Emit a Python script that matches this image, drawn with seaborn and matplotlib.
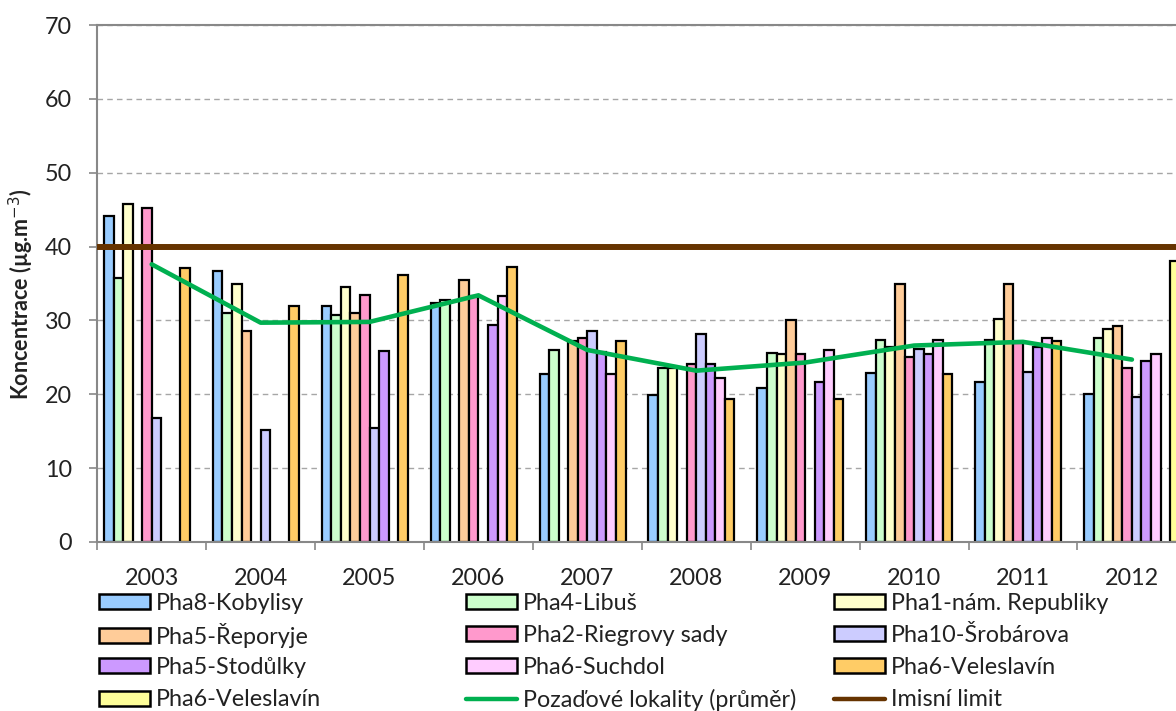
import numpy as np
import pandas as pd
import matplotlib
matplotlib.use('Agg')
import matplotlib.pyplot as plt
import seaborn as sns
from matplotlib.patches import Patch
from matplotlib.lines import Line2D

nan = np.nan

# category axis
roky = ['2003', '2004', '2005', '2006', '2007', '2008', '2009', '2010', '2011', '2012']

# annual mean concentrations per station (µg.m-3), NaN = no data
kobylisy = [44.1, 36.7, 31.9, 32.3, 22.8, 19.9, 20.8, 22.9, 21.7, 20.1]
libus = [35.7, 31.0, 30.8, 32.8, 26.0, 23.6, 25.6, 27.4, 27.4, 27.6]
republiky = [45.8, 34.9, 34.5, nan, nan, 23.6, 25.5, 26.4, 30.2, 28.8]
reporyje = [nan, 28.6, 31.0, 35.5, 27.2, nan, 30.0, 34.9, 34.9, 29.3]
riegrovy = [45.2, nan, 33.5, 33.3, 27.6, 24.1, 25.5, 25.1, 27.0, 23.6]
srobarova = [16.8, 15.1, 15.5, nan, 28.6, 28.1, nan, 26.1, 23.0, 19.7]
stodulky = [nan, nan, 25.8, 29.4, 25.7, 24.1, 21.7, 25.5, 26.4, 24.5]
suchdol = [nan, nan, nan, 33.3, 22.7, 22.2, 26.0, 27.3, 27.6, 25.4]
veleslavin = [37.1, 31.9, 36.2, 37.3, 27.2, 19.4, 19.4, 22.7, 27.2, nan]
veleslavin2 = [nan, nan, nan, nan, nan, nan, nan, nan, nan, 38.0]

# background stations average and limit value
pozadi = [37.6, 29.7, 29.8, 33.4, 26.0, 23.2, 24.3, 26.6, 27.1, 24.7]
limit = 40

stanice = ['Pha8-Kobylisy', 'Pha4-Libuš', 'Pha1-nám. Republiky', 'Pha5-Řeporyje',
           'Pha2-Riegrovy sady', 'Pha10-Šrobárova', 'Pha5-Stodůlky', 'Pha6-Suchdol',
           'Pha6-Veleslavín', 'Pha6-Veleslavín']
klice = ['s%d' % i for i in range(len(stanice))]  # unique hue keys (two Veleslavín series)
hodnoty = [kobylisy, libus, republiky, reporyje, riegrovy, srobarova,
           stodulky, suchdol, veleslavin, veleslavin2]
barvy = ['#99CCFF', '#CCFFCC', '#FFFFCC', '#FFCC99', '#FF99CC', '#CCCCFF',
         '#CC99FF', '#FFCCFF', '#FFCC66', '#FFFF99']

df = pd.DataFrame([
    {'rok': r, 'stanice': k, 'hodnota': v}
    for k, vals in zip(klice, hodnoty)
    for r, v in zip(roky, vals)
]).dropna()

sns.set_theme(style='white')
plt.rcParams['font.family'] = ['Lato', 'DejaVu Sans']
txt = '#222222'
fs = 16.8

fig = plt.figure(figsize=(11.76, 7.11), dpi=100)
ax = fig.add_axes([0.0827, 0.2377, 0.9261, 0.7271])

sns.barplot(data=df, x='rok', y='hodnota', hue='stanice', order=roky,
            hue_order=klice, palette=dict(zip(klice, barvy)), width=0.877,
            saturation=1, edgecolor='black', linewidth=1.6, legend=False,
            ax=ax, zorder=2)

ax.axhline(limit, color='#663300', lw=4.3, zorder=4)
sns.lineplot(x=np.arange(len(roky)), y=pozadi, color='#00B050', lw=3.3,
             ax=ax, zorder=5)

ax.set_xlim(-0.5, len(roky) - 0.5)
ax.set_ylim(0, 70)
ax.set_yticks(range(0, 71, 10))
ax.set_xticks(range(len(roky)))
ax.set_xticklabels(roky)
ax.set_xticks(np.arange(-0.5, len(roky)), minor=True)
ax.tick_params(axis='x', which='major', length=0, pad=19, labelsize=fs, labelcolor=txt)
ax.tick_params(axis='x', which='minor', length=6, width=1.2, color='#888888',
               direction='out', bottom=True)
ax.tick_params(axis='y', length=6, width=1.2, color='#888888', direction='out', left=True,
               pad=12, labelsize=fs, labelcolor=txt)

ax.yaxis.grid(True, linestyle=(0, (4, 3)), color='#A6A6A6', lw=1)
ax.set_axisbelow(True)
for s in ['left', 'bottom', 'top']:
    ax.spines[s].set_color('#888888')
    ax.spines[s].set_linewidth(1.5)
ax.spines['right'].set_visible(False)

ax.set_xlabel('')
ax.set_ylabel('Koncentrace (µg.m$^{-3}$)', fontsize=15.5, fontweight='bold', color=txt)
ax.yaxis.set_label_coords(-0.056, 0.48)

# legend: 3 columns x 4 rows, filled row by row like the source
handles = [Patch(facecolor=c, edgecolor='black', linewidth=1.8) for c in barvy]
handles += [Line2D([], [], color='#00B050', lw=3.2), Line2D([], [], color='#663300', lw=3.2)]
labels = stanice + ['Pozaďové lokality (průměr)', 'Imisní limit']
sloupce = [99, 466, 834]
radky = [603, 635, 667, 700]
for i, (h, lab) in enumerate(zip(handles, labels)):
    x = sloupce[i % 3]
    y = radky[i // 3]
    leg = fig.legend([h], [lab], loc='center left',
                     bbox_to_anchor=(x / 1176, 1 - y / 711),
                     frameon=False, fontsize=fs, handlelength=2.2, handleheight=0.6,
                     handletextpad=0.25, borderpad=0, borderaxespad=0)
    leg.get_texts()[0].set_color(txt)

fig.savefig('out.png', dpi=100)
